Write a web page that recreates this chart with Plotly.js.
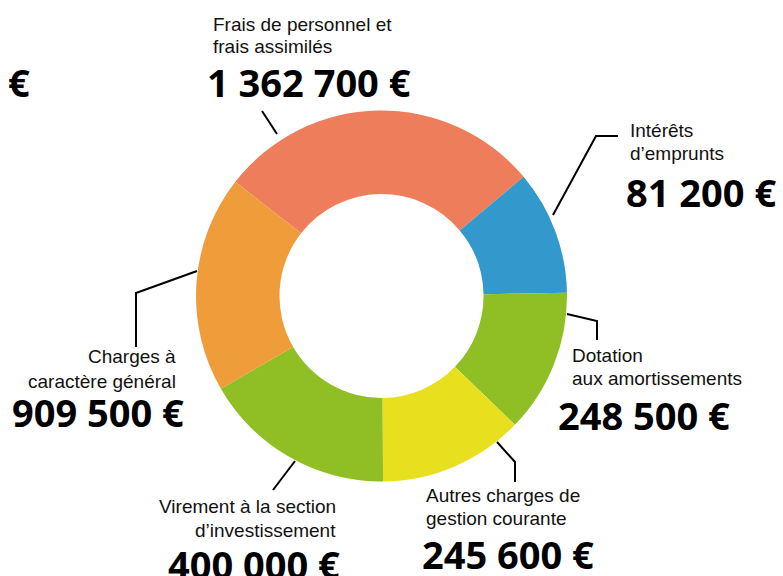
<!DOCTYPE html>
<html>
<head>
<meta charset="utf-8">
<script src="https://cdn.plot.ly/plotly-3.0.1.min.js"></script>
<style>html,body{margin:0;padding:0;background:#fff;}#chart{width:783px;height:576px;}</style>
</head>
<body>
<div id="chart"></div>
<script>
// Categories in drawing order (clockwise from the top-left boundary)
const categories = [
  "Frais de personnel et frais assimilés",
  "Intérêts d’emprunts",
  "Dotation aux amortissements",
  "Autres charges de gestion courante",
  "Virement à la section d’investissement",
  "Charges à caractère général"
];
// Amounts printed on the chart (euros)
const amounts = [1362700, 81200, 248500, 245600, 400000, 909500];
// Slice sizes as drawn in the picture (degrees of arc)
const sliceArc = [102, 39, 45, 45.5, 60.5, 68];
// Label lines as printed
const labelLines = [
  ["Frais de personnel et", "frais assimilés"],
  ["Intérêts", "d’emprunts"],
  ["Dotation", "aux amortissements"],
  ["Autres charges de", "gestion courante"],
  ["Virement à la section", "d’investissement"],
  ["Charges à", "caractère général"]
];
const colors = ["#EE7E5B", "#3399CC", "#8FBF24", "#E8E01E", "#8FBF24", "#EF9D3A"];

function fmt(n) {
  return String(n).replace(/\B(?=(\d{3})+(?!\d))/g, " ") + " €";
}

const W = 783, H = 576;
const X = px => px / W;
const Y = py => 1 - py / H;

// Layout for labels (pixel positions)
const labelPos = [
  {anchor: "left",  x: 211, l1: 24.1, l2: 46.1, nx: 205, ny: 82, nanchor: "left"},
  {anchor: "left",  x: 628, l1: 130, l2: 153.4, nx: 624, ny: 191.5, nanchor: "left"},
  {anchor: "left",  x: 570, l1: 355.7, l2: 378.4, nx: 556, ny: 415.3, nanchor: "left"},
  {anchor: "left",  x: 424, l1: 495.7, l2: 518.4, nx: 420, ny: 553.6, nanchor: "left"},
  {anchor: "right", x: 338, l1: 506.7, l2: 530.1, nx: 166, ny: 564, nanchor: "left"},
  {anchor: "right", x: 178, l1: 356.7, l2: 381.1, nx: 10, ny: 412, nanchor: "left"}
];

const labelFont = {family: "Liberation Sans, Arial, sans-serif", size: 19, color: "#111"};
const numFont = {family: "Open Sans, sans-serif", size: 38, color: "#000", weight: 700};

const annotations = [];
categories.forEach((c, i) => {
  const p = labelPos[i];
  annotations.push({xref: "paper", yref: "paper", x: X(p.x), y: Y(p.l1), xanchor: p.anchor, yanchor: "middle",
    text: labelLines[i][0], showarrow: false, font: labelFont});
  annotations.push({xref: "paper", yref: "paper", x: X(p.x), y: Y(p.l2), xanchor: p.anchor, yanchor: "middle",
    text: labelLines[i][1], showarrow: false, font: labelFont});
  annotations.push({xref: "paper", yref: "paper", x: X(p.nx), y: Y(p.ny), xanchor: p.nanchor, yanchor: "middle",
    text: fmt(amounts[i]), showarrow: false, font: numFont});
});
// stray euro sign at top-left of the original
annotations.push({xref: "paper", yref: "paper", x: X(6), y: Y(82), xanchor: "left", yanchor: "middle",
  text: "€", showarrow: false, font: numFont});

// leader lines (pixel paths)
const leaders = [
  [[262, 111], [277, 134]],
  [[553, 215], [596, 136], [618, 136]],
  [[567, 314], [597, 321], [597, 340]],
  [[497, 442], [515, 462], [515, 482]],
  [[295, 461], [273, 490]],
  [[197, 271], [136, 293], [136, 347]]
];
const shapes = leaders.map(pts => ({
  type: "path", xref: "paper", yref: "paper",
  path: pts.map((p, k) => (k ? "L" : "M") + X(p[0]).toFixed(5) + "," + Y(p[1]).toFixed(5)).join(" "),
  line: {color: "#000", width: 2}
}));

const cx = 381.5, cy = 296, r = 185.5;
const data = [{
  type: "pie",
  labels: categories,
  values: sliceArc,
  customdata: amounts,
  sort: false,
  direction: "clockwise",
  rotation: -52,
  hole: 0.55,
  textinfo: "none",
  hoverinfo: "label",
  marker: {colors: colors, line: {width: 0}},
  domain: {x: [X(cx - r), X(cx + r)], y: [Y(cy + r), Y(cy - r)]}
}];

const layout = {
  width: W, height: H,
  margin: {l: 0, r: 0, t: 0, b: 0},
  showlegend: false,
  paper_bgcolor: "#fff",
  annotations: annotations,
  shapes: shapes
};

Plotly.newPlot("chart", data, layout, {displayModeBar: false, staticPlot: true});
</script>
</body>
</html>
